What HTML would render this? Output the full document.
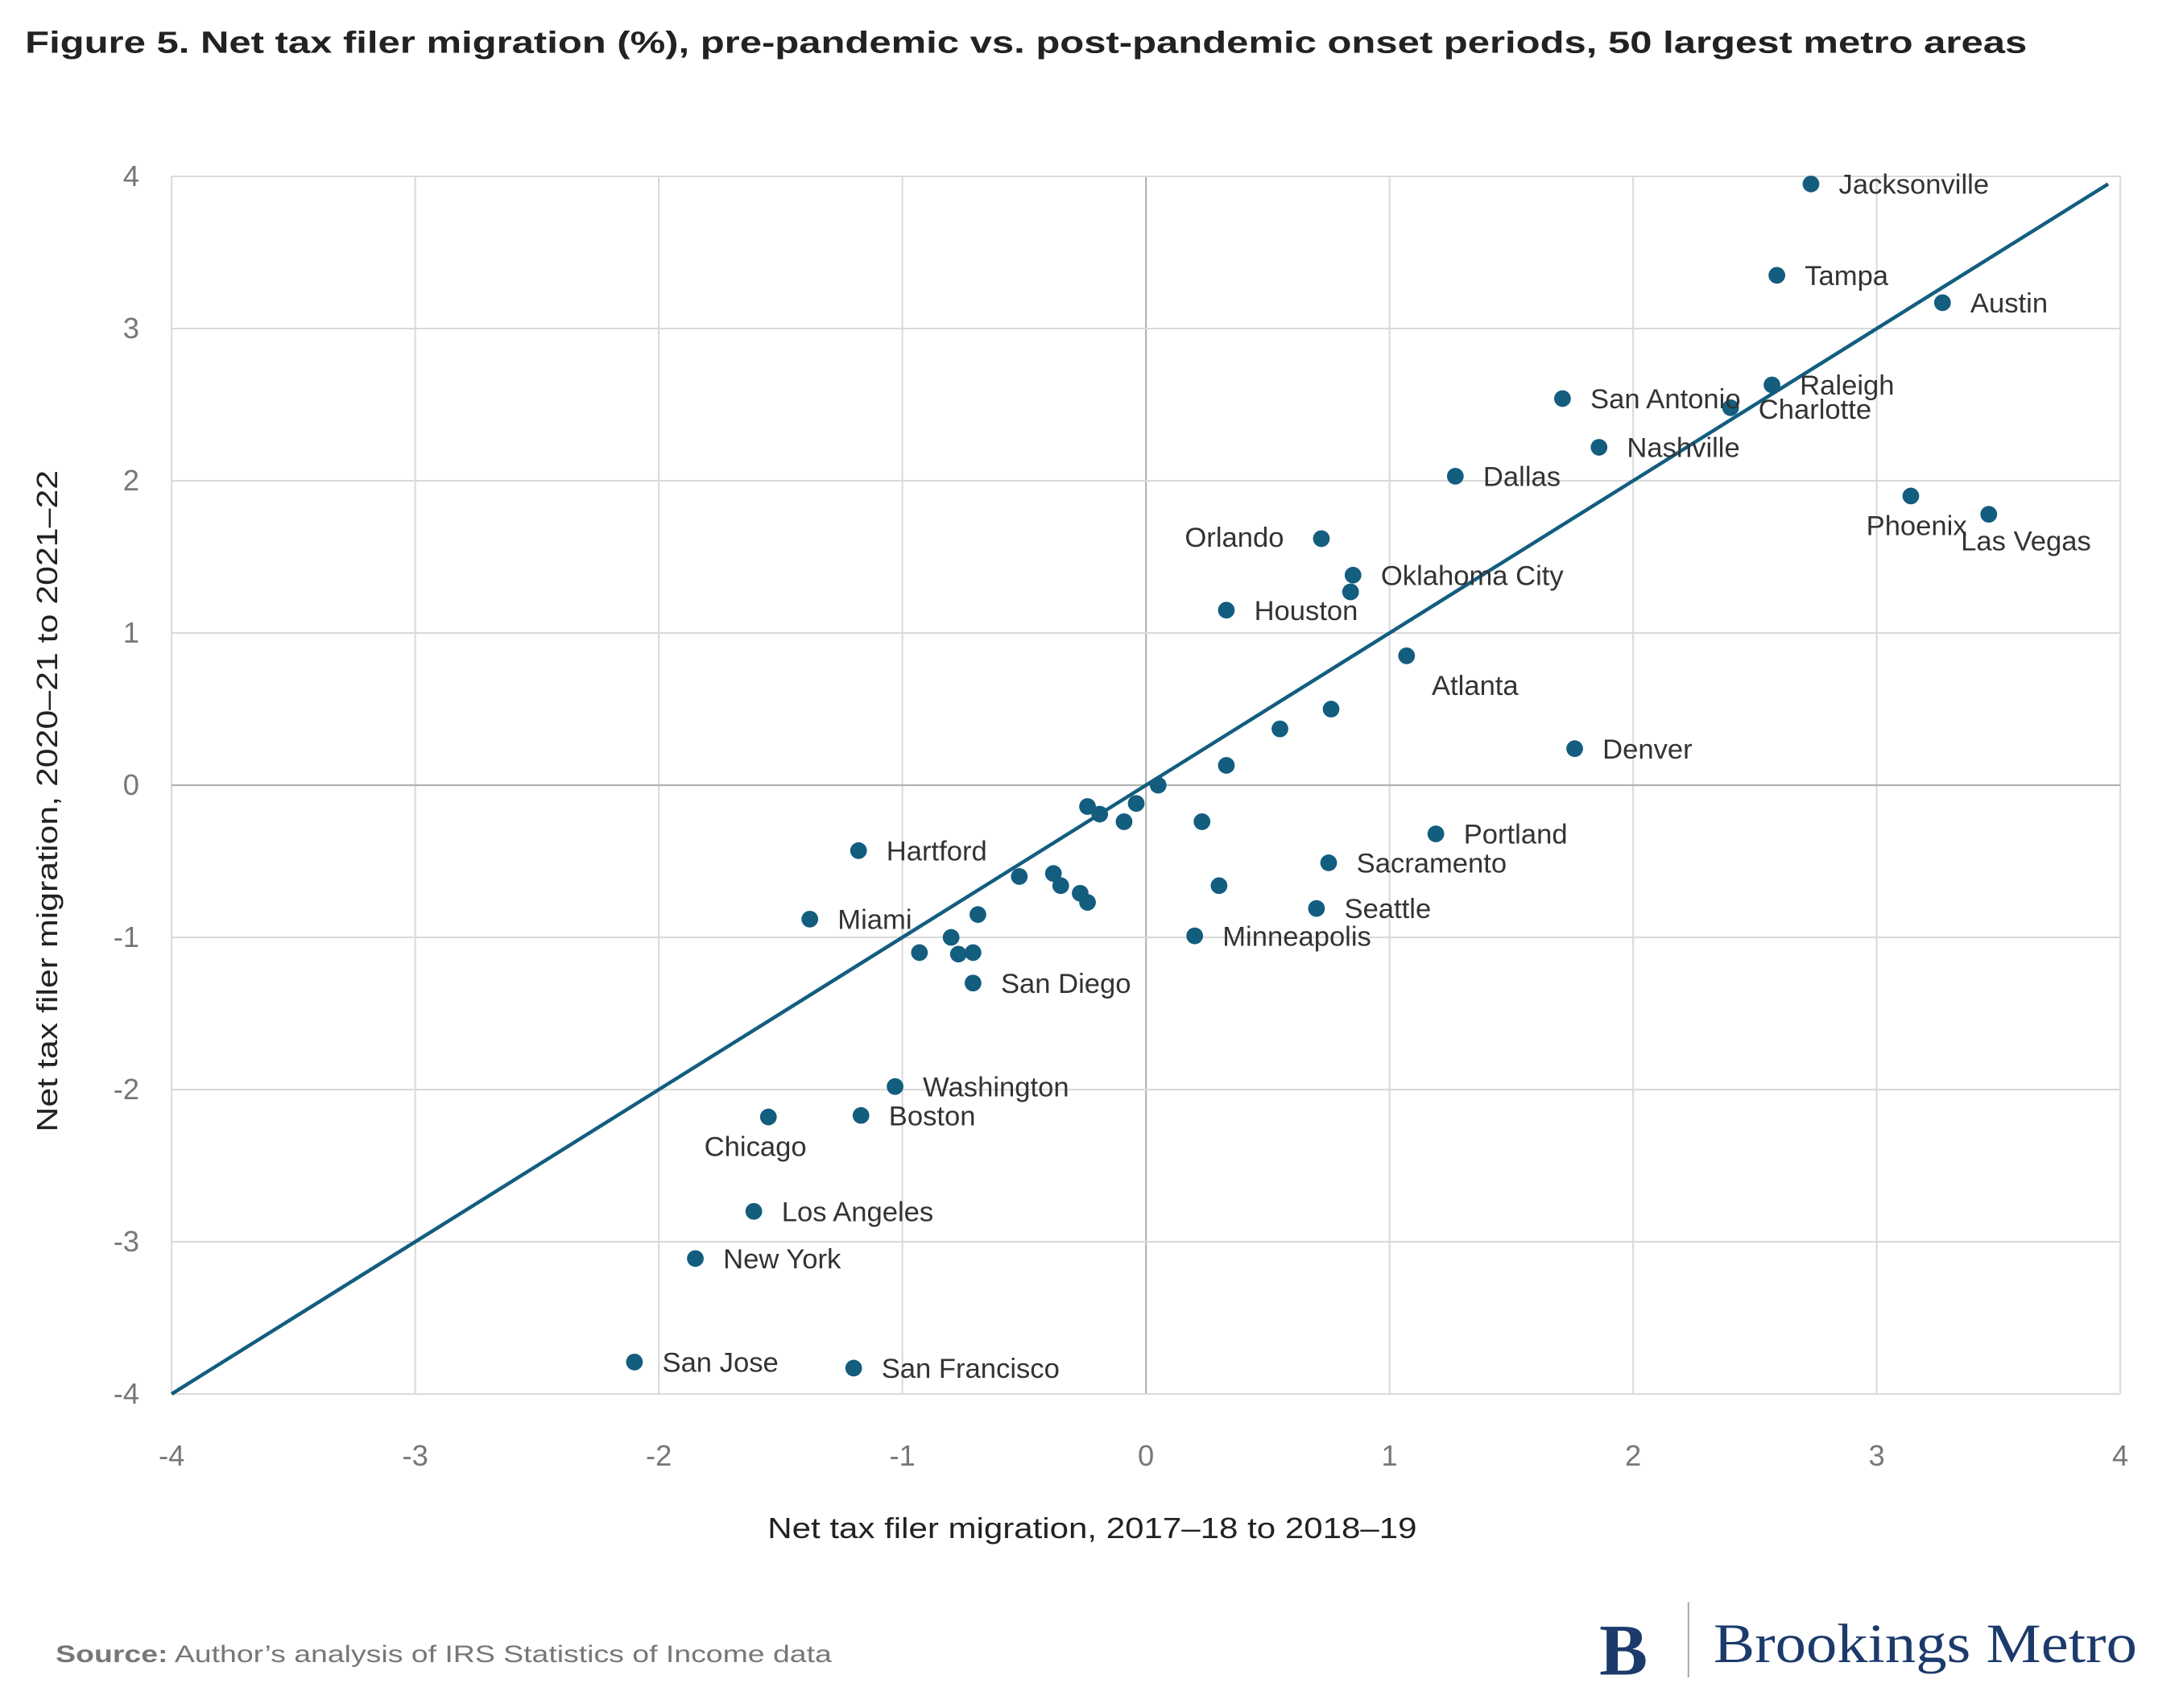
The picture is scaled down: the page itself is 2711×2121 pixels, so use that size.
<!DOCTYPE html>
<html><head><meta charset="utf-8"><style>
html,body{margin:0;padding:0;background:#fff;}
svg{display:block;font-family:"Liberation Sans",sans-serif;}
</style></head><body>
<svg id="chart" width="2711" height="2121" viewBox="0 0 1567 1226" preserveAspectRatio="none" xmlns="http://www.w3.org/2000/svg">
<text x="18" y="38" font-size="22" font-weight="bold" fill="#222" textLength="1437" lengthAdjust="spacingAndGlyphs">Figure 5. Net tax filer migration (%), pre-pandemic vs. post-pandemic onset periods, 50 largest metro areas</text>
<g id="grid"></g>
<g id="marks"></g>
<text x="784" y="1104" font-size="21" text-anchor="middle" fill="#222" textLength="466" lengthAdjust="spacingAndGlyphs">Net tax filer migration, 2017–18 to 2018–19</text>
<text transform="translate(41,575) rotate(-90)" font-size="21" text-anchor="middle" fill="#222" textLength="475" lengthAdjust="spacingAndGlyphs">Net tax filer migration, 2020–21 to 2021–22</text>
<text x="40" y="1193" font-size="17" fill="#777" textLength="557" lengthAdjust="spacingAndGlyphs"><tspan font-weight="bold">Source:</tspan> Author’s analysis of IRS Statistics of Income data</text>
<g>
<text x="1148" y="1202" font-family="Liberation Serif, serif" font-size="52" font-weight="bold" fill="#1c3a6b">B</text>
<line x1="1212" y1="1150" x2="1212" y2="1204" stroke="#aab" stroke-width="1.2"/>
<text x="1230" y="1193" font-family="Liberation Serif, serif" font-size="40" fill="#1c3a6b" textLength="304" lengthAdjust="spacingAndGlyphs">Brookings Metro</text>
</g>
</svg>
<script>
const xTicks=[-4,-3,-2,-1,0,1,2,3,4];
const yTicks=[-4,-3,-2,-1,0,1,2,3,4];
const names=["Jacksonville","Tampa","Austin","Raleigh","Charlotte","San Antonio","Nashville","Dallas","Phoenix","Las Vegas","Orlando","Oklahoma City","","Houston","Atlanta","","","Denver","","","","","","","","Portland","Sacramento","Hartford","","","","","","","Seattle","Minneapolis","Miami","","","","","","San Diego","Washington","Boston","Chicago","Los Angeles","New York","San Jose","San Francisco"];
const xVals=[2.73,2.59,3.27,2.57,2.40,1.71,1.86,1.27,3.14,3.46,0.72,0.85,0.84,0.33,1.07,0.76,0.55,1.76,0.33,0.05,-0.04,-0.19,-0.24,-0.09,0.23,1.19,0.75,-1.18,-0.52,-0.38,-0.35,-0.27,-0.24,0.30,0.70,0.20,-1.38,-0.69,-0.80,-0.93,-0.77,-0.71,-0.71,-1.03,-1.17,-1.55,-1.61,-1.85,-2.10,-1.20];
const yVals=[3.95,3.35,3.17,2.63,2.48,2.54,2.22,2.03,1.90,1.78,1.62,1.38,1.27,1.15,0.85,0.50,0.37,0.24,0.13,0.0,-0.12,-0.19,-0.14,-0.24,-0.24,-0.32,-0.51,-0.43,-0.60,-0.58,-0.66,-0.71,-0.77,-0.66,-0.81,-0.99,-0.88,-0.85,-1.00,-1.10,-1.11,-1.10,-1.30,-1.98,-2.17,-2.18,-2.80,-3.11,-3.79,-3.83];
const fitLine=[-4,3.95];
const labelOffsets={"Charlotte":[20,8],"Phoenix":[-32,28],"Las Vegas":[-20,26],"Orlando":[-98,6],"Atlanta":[18,28],"Chicago":[-46,28]};
const NS="http://www.w3.org/2000/svg";
const X=v=>822.6+v*174.85, Y=v=>563.6-v*109.25;
function mk(t,a,p){const e=document.createElementNS(NS,t);for(const k in a)e.setAttribute(k,a[k]);p.appendChild(e);return e;}
const grid=document.getElementById('grid'), marks=document.getElementById('marks');
xTicks.forEach(t=>{
 const l=mk('line',{x1:X(t),x2:X(t),y1:Y(4),y2:Y(-4),stroke:t===0?'#b0b0b0':'#dadada','stroke-width':1.2},grid);
 
 
 const s=mk('text',{x:X(t),y:1052,'font-size':21,'text-anchor':'middle',fill:'#777'},grid);s.textContent=t;
 
 
});
yTicks.forEach(t=>{
 const l=mk('line',{x1:X(-4),x2:X(4),y1:Y(t),y2:Y(t),stroke:t===0?'#b0b0b0':'#dadada','stroke-width':1.2},grid);
 
 
 const s=mk('text',{x:100,y:Y(t)+7,'font-size':21,'text-anchor':'end',fill:'#777'},grid);s.textContent=t;
 
 
});
const fl=mk('line',{x1:X(fitLine[0]),y1:Y(fitLine[0]),x2:X(fitLine[1]),y2:Y(fitLine[1]),stroke:'#135d7f','stroke-width':2.6},marks);


xVals.forEach((xv,i)=>{
 const c=mk('circle',{cx:X(xv),cy:Y(yVals[i]),r:6,fill:'#135d7f'},marks);
 
 
 if(names[i]){
  const o=labelOffsets[names[i]]||[20,7];
  const s=mk('text',{x:X(xv)+o[0],y:Y(yVals[i])+o[1],'font-size':20,fill:'#333'},marks);
  s.textContent=names[i];
  
  
 }
});
</script>
</body></html>
